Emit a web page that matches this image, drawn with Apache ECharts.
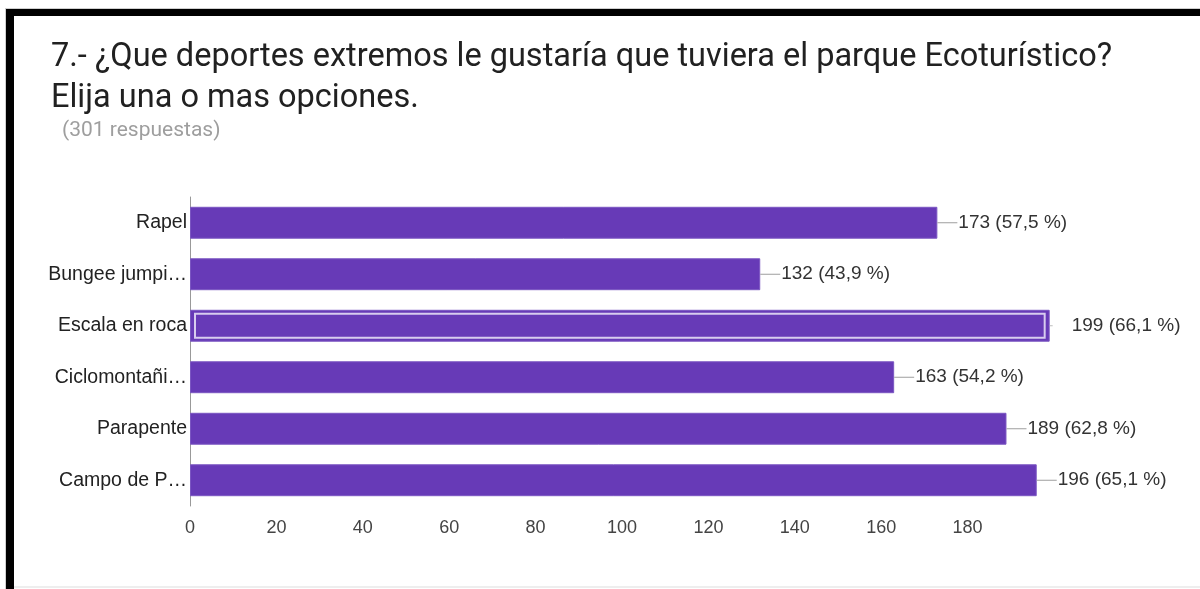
<!DOCTYPE html>
<html>
<head>
<meta charset="utf-8">
<script src="https://cdn.jsdelivr.net/npm/echarts@6/dist/echarts.min.js"></script>
<style>
html,body{margin:0;padding:0;background:#fff;}
#chart{width:1200px;height:589px;}
</style>
</head>
<body>
<div id="chart"></div>
<script>
const titleLines = ['7.- ¿Que deportes extremos le gustaría que tuviera el parque Ecoturístico?', 'Elija una o mas opciones.'];
const subtitleText = '(301 respuestas)';
const categories = ['Rapel', 'Bungee jumpi…', 'Escala en roca', 'Ciclomontañi…', 'Parapente', 'Campo de P…'];
const counts = [173, 132, 199, 163, 189, 196];
const percents = ['57,5', '43,9', '66,1', '54,2', '62,8', '65,1'];
const xTicks = [0, 20, 40, 60, 80, 100, 120, 140, 160, 180];
const focusedIndex = 2;

const chart = echarts.init(document.getElementById('chart'), null, {renderer: 'canvas'});
const labelFont = '"Liberation Sans", Arial, sans-serif';

const barData = counts.map((v, i) => {
  const txt = v + ' (' + percents[i] + ' %)';
  if (i === focusedIndex) {
    return {value: v, label: {formatter: '{s|}{g|}{t|' + txt + '}'}};
  }
  return {value: v, label: {formatter: '{l|}{t|' + txt + '}'}};
});

const option = {
  animation: false,
  backgroundColor: '#ffffff',
  title: [
    {
      text: titleLines.join('\n'),
      left: 46, top: 32,
      textStyle: {fontFamily: 'Roboto', fontSize: 32.5, fontWeight: 'normal', color: '#212121', lineHeight: 41}
    },
    {
      text: subtitleText,
      left: 57, top: 115,
      textStyle: {fontFamily: 'Roboto', fontSize: 21, fontWeight: 'normal', color: '#9e9e9e'}
    }
  ],
  graphic: [
    {type: 'rect', shape: {x: 5, y: 8, width: 1195, height: 1}, style: {fill: '#cfcfcf'}},
    {type: 'rect', shape: {x: 6, y: 9, width: 1194, height: 7}, style: {fill: '#000000'}},
    {type: 'rect', shape: {x: 5, y: 9, width: 1, height: 580}, style: {fill: '#d0d0d0'}},
    {type: 'rect', shape: {x: 6, y: 9, width: 8, height: 580}, style: {fill: '#000000'}},
    {type: 'rect', shape: {x: 14, y: 586, width: 1186, height: 2}, style: {fill: '#eeeeee'}}
  ],
  grid: {left: 190, top: 197, right: 146, bottom: 83, containLabel: false},
  xAxis: {
    type: 'value', min: 0, max: 200, interval: 20,
    axisLine: {show: false}, axisTick: {show: false}, splitLine: {show: false},
    axisLabel: {
      margin: 13,
      fontFamily: labelFont, fontSize: 18, color: '#444444',
      formatter: v => (xTicks.indexOf(v) >= 0 ? String(v) : '')
    }
  },
  yAxis: {
    type: 'category', data: categories, inverse: true,
    axisLine: {show: true, lineStyle: {color: '#999999', width: 1}},
    axisTick: {show: false},
    axisLabel: {margin: 3, fontFamily: labelFont, fontSize: 19.5, color: '#222222'}
  },
  series: [
    {
      type: 'bar',
      data: barData,
      barWidth: '62%',
      itemStyle: {color: '#673ab7', borderColor: '#7b56c2', borderWidth: 1},
      label: {
        show: true, position: 'right', distance: 0,
        fontFamily: labelFont, fontSize: 19, color: '#333333',
        rich: {
          l: {width: 20, height: 1, backgroundColor: '#9e9e9e'},
          s: {width: 3, height: 1, backgroundColor: '#bdbdbd'},
          g: {width: 18, height: 1},
          t: {fontFamily: labelFont, fontSize: 19, color: '#333333', padding: [0, 0, 0, 1]}
        }
      },
      silent: true
    },
    {
      type: 'custom',
      silent: true,
      z: 5,
      data: counts.map((v, i) => [v, i]).filter(d => d[1] === focusedIndex),
      encode: {x: 0, y: 1},
      renderItem: function (params, api) {
        const start = api.coord([0, api.value(1)]);
        const end = api.coord([api.value(0), api.value(1)]);
        const band = api.size([0, 1])[1];
        const h = band * 0.62 - 8;
        return {
          type: 'rect',
          shape: {x: start[0] + 5, y: start[1] - h / 2, width: end[0] - start[0] - 10, height: h},
          style: {fill: 'none', stroke: '#d8ccef', lineWidth: 2}
        };
      }
    }
  ]
};
chart.setOption(option);
</script>
</body>
</html>
